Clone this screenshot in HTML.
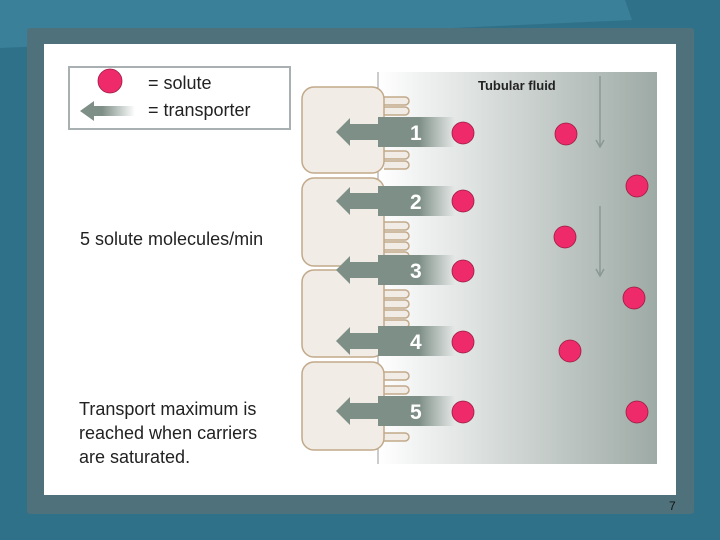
<!DOCTYPE html>
<html><head><meta charset="utf-8"><style>
body{margin:0;width:720px;height:540px;overflow:hidden;background:#2f7188;font-family:"Liberation Sans",sans-serif}
</style></head><body>
<svg width="720" height="540" viewBox="0 0 720 540" xmlns="http://www.w3.org/2000/svg" style="position:absolute;left:0;top:0">
<defs>
<linearGradient id="fl" x1="0" x2="1"><stop offset="0" stop-color="#ffffff"/><stop offset="1" stop-color="#9eaaa5"/></linearGradient>
<linearGradient id="ar" x1="0" x2="1"><stop offset="0" stop-color="#7e8f87"/><stop offset="0.7" stop-color="#7e8f87"/><stop offset="1" stop-color="#7e8f87" stop-opacity="0"/></linearGradient>
<linearGradient id="la" x1="0" x2="1"><stop offset="0" stop-color="#7e8f87"/><stop offset="0.4" stop-color="#7e8f87"/><stop offset="1" stop-color="#7e8f87" stop-opacity="0"/></linearGradient>
</defs>
<rect width="720" height="540" fill="#2f7188"/>
<polygon points="0,0 625,0 632,20 0,48" fill="#3a8099"/>
<rect x="27" y="28" width="667" height="486" rx="3" fill="#4e717b"/>
<rect x="44" y="44" width="632" height="451" fill="#fff"/>
<rect x="69" y="67" width="221" height="62" fill="#fff" stroke="#a8b0b2" stroke-width="2"/>
<circle cx="110" cy="81" r="12" fill="#ef2a6a" stroke="#9a1c44" stroke-width="0.8"/>
<polygon points="80,111 94,101 94,106 135,106 135,116 94,116 94,121" fill="url(#la)"/>
<text x="148" y="89" font-size="18" fill="#222">= solute</text>
<text x="148" y="116" font-size="18" fill="#222">= transporter</text>
<text x="80" y="245" font-size="18" fill="#222">5 solute molecules/min</text>
<text x="79" y="415" font-size="18" fill="#222">Transport maximum is</text>
<text x="79" y="439" font-size="18" fill="#222">reached when carriers</text>
<text x="79" y="463" font-size="18" fill="#222">are saturated.</text>
<rect x="378" y="72" width="279" height="392" fill="url(#fl)"/>
<line x1="378" y1="72" x2="378" y2="464" stroke="#999" stroke-width="1"/>
<text x="478" y="90" font-size="13" font-weight="bold" fill="#222">Tubular fluid</text>
<g stroke="#8a9993" stroke-width="1.5" fill="none">
<line x1="600" y1="76" x2="600" y2="147"/><polyline points="596,140 600,147 604,140"/>
<line x1="600" y1="206" x2="600" y2="276"/><polyline points="596,269 600,276 604,269"/>
</g>
<g fill="#f1ece6" stroke="#c2a98a" stroke-width="1.5">
<path d="M384,97 h21 a4,4 0 0 1 0,8 h-21 M384,107 h21 a4,4 0 0 1 0,8 h-21 M384,151 h21 a4,4 0 0 1 0,8 h-21 M384,161 h21 a4,4 0 0 1 0,8 h-21"/>
<path d="M384,222 h21 a4,4 0 0 1 0,8 h-21 M384,232 h21 a4,4 0 0 1 0,8 h-21 M384,242 h21 a4,4 0 0 1 0,8 h-21 M384,252 h21 a4,4 0 0 1 0,8 h-21"/>
<path d="M384,290 h21 a4,4 0 0 1 0,8 h-21 M384,300 h21 a4,4 0 0 1 0,8 h-21 M384,310 h21 a4,4 0 0 1 0,8 h-21 M384,320 h21 a4,4 0 0 1 0,8 h-21"/>
<path d="M384,372 h21 a4,4 0 0 1 0,8 h-21 M384,386 h21 a4,4 0 0 1 0,8 h-21 M384,433 h21 a4,4 0 0 1 0,8 h-21"/>
<rect x="302" y="87" width="82" height="86" rx="12"/>
<rect x="302" y="178" width="82" height="88" rx="12"/>
<rect x="302" y="270" width="82" height="87" rx="12"/>
<rect x="302" y="362" width="82" height="88" rx="12"/>
</g>
<g fill="url(#ar)">
<polygon points="336,132 350,118 350,124 378,124 378,117 455,117 455,147 378,147 378,140 350,140 350,146"/>
<polygon points="336,201 350,187 350,193 378,193 378,186 455,186 455,216 378,216 378,209 350,209 350,215"/>
<polygon points="336,270 350,256 350,262 378,262 378,255 455,255 455,285 378,285 378,278 350,278 350,284"/>
<polygon points="336,341 350,327 350,333 378,333 378,326 455,326 455,356 378,356 378,349 350,349 350,355"/>
<polygon points="336,411 350,397 350,403 378,403 378,396 455,396 455,426 378,426 378,419 350,419 350,425"/>
</g>
<g fill="#fff" font-size="21" font-weight="bold">
<text x="410" y="140">1</text><text x="410" y="209">2</text><text x="410" y="278">3</text><text x="410" y="349">4</text><text x="410" y="419">5</text>
</g>
<g fill="#ef2a6a" stroke="#9a1c44" stroke-width="0.8">
<circle cx="463" cy="133" r="11"/><circle cx="463" cy="201" r="11"/><circle cx="463" cy="271" r="11"/><circle cx="463" cy="342" r="11"/><circle cx="463" cy="412" r="11"/>
<circle cx="566" cy="134" r="11"/><circle cx="637" cy="186" r="11"/><circle cx="565" cy="237" r="11"/><circle cx="634" cy="298" r="11"/><circle cx="570" cy="351" r="11"/><circle cx="637" cy="412" r="11"/>
</g>
<text x="669" y="510" font-size="12" fill="#111">7</text>
</svg>
</body></html>
